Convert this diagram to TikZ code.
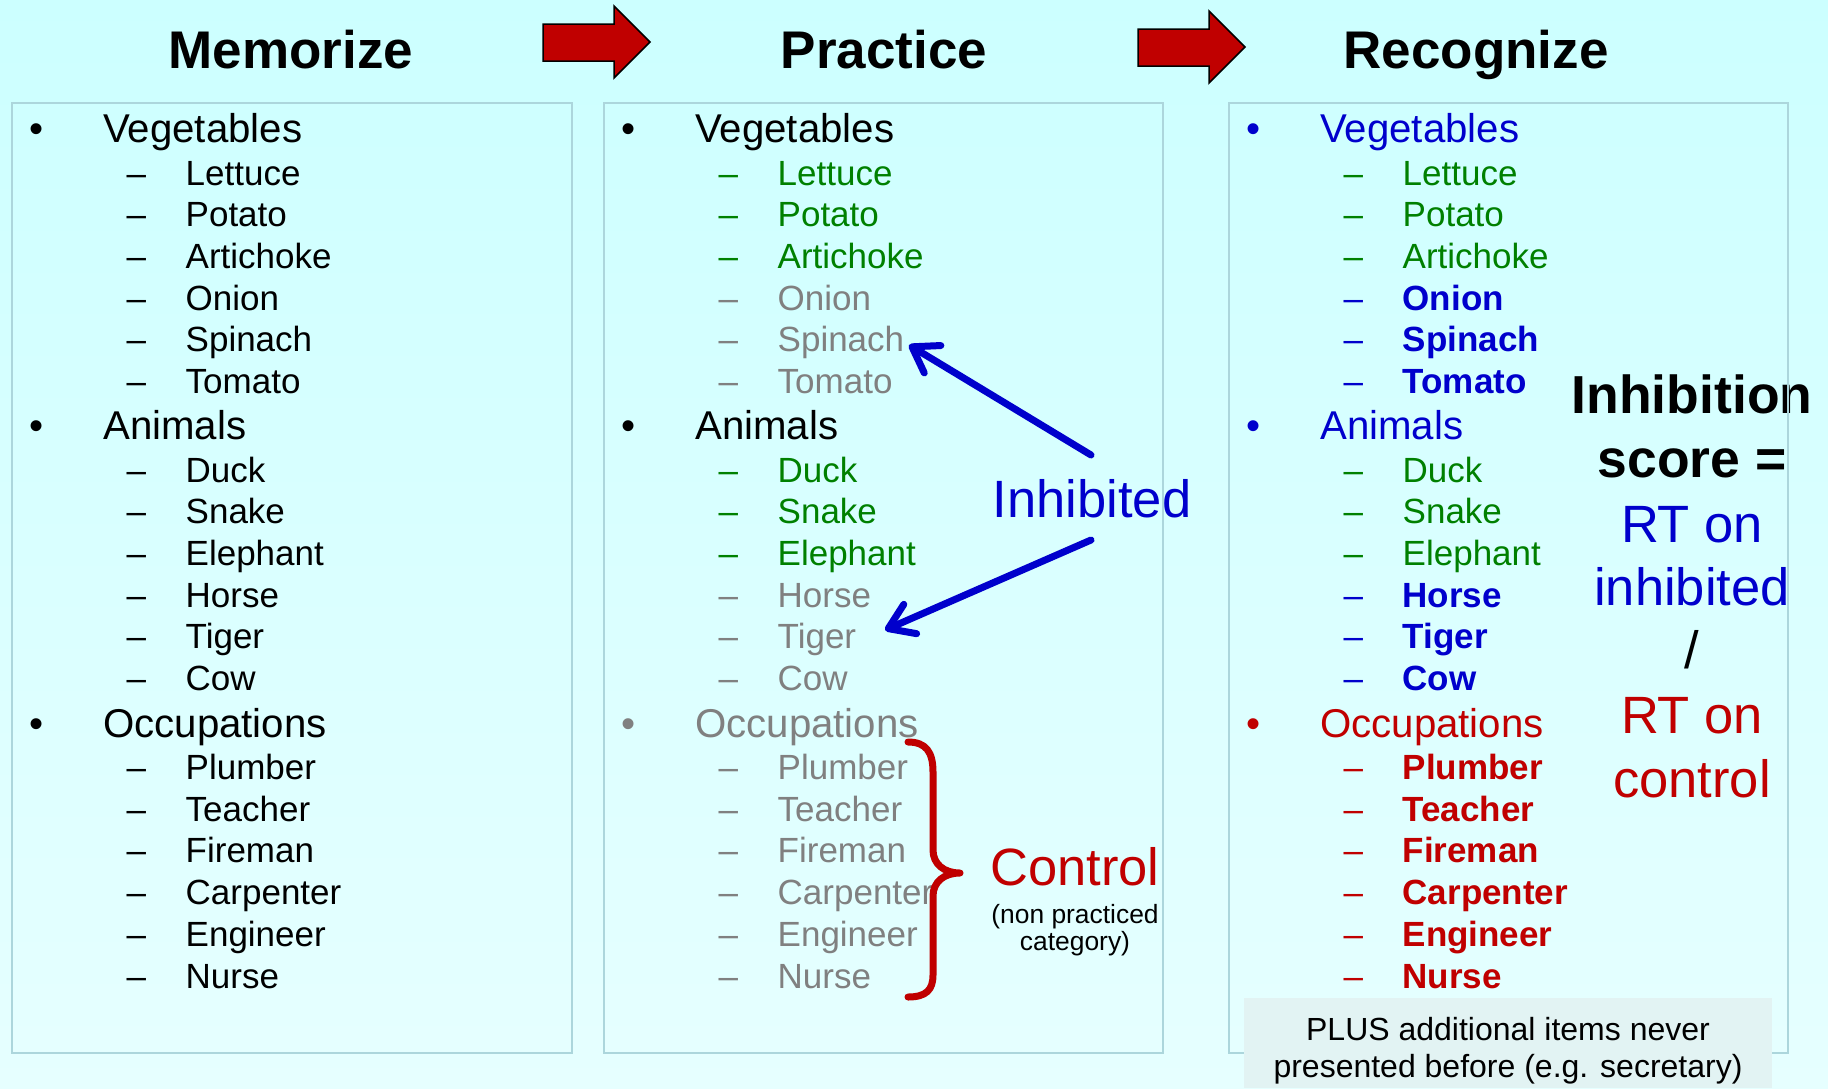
\documentclass[tikz,border=0pt]{standalone}
\usepackage{fontspec}
\setmainfont{Liberation Sans}
\usetikzlibrary{arrows.meta}
\definecolor{grn}{RGB}{0,128,0}
\definecolor{gry}{RGB}{128,128,128}
\definecolor{blu}{RGB}{0,0,204}
\definecolor{rd}{RGB}{192,0,0}
\definecolor{boxc}{RGB}{172,214,220}
\definecolor{notec}{RGB}{226,243,243}
\definecolor{bgtop}{RGB}{204,255,255}
\definecolor{bgbot}{RGB}{230,255,255}
\newcommand\catfont{\fontsize{40.2}{48}\selectfont}
\newcommand\itmfont{\fontsize{35}{42}\selectfont}
\tikzset{
  txt/.style={inner sep=0pt, anchor=base west},
  bul/.style={inner sep=0pt, anchor=base, font=\catfont},
  cat/.style={txt, font=\catfont},
  dsh/.style={txt, font=\itmfont},
  itm/.style={txt, font=\itmfont},
  bitm/.style={txt, font=\itmfont\bfseries},
  title/.style={inner sep=0pt, anchor=base, font=\fontsize{53}{60}\selectfont\bfseries},
  big/.style={inner sep=0pt, anchor=base, font=\fontsize{52.5}{60}\selectfont},
  bigb/.style={inner sep=0pt, anchor=base, font=\fontsize{53.5}{60}\selectfont\bfseries},
  small/.style={inner sep=0pt, anchor=base, font=\fontsize{26.4}{30}\selectfont},
  notetxt/.style={inner sep=0pt, anchor=base, font=\fontsize{32}{38}\selectfont},
  frame/.style={draw=boxc, line width=2.5pt},
  blockarrow/.style={fill=rd, draw=black, line width=1.5pt, line join=miter},
  inharrow/.style={draw=blu, line width=7pt, line cap=round,
    -{Straight Barb[round,length=24pt,width=32pt]}},
}
\newcommand\Cat[5]{\node[bul,text=#4] (#1b) at ({#2+37},#3) {•};
  \node[cat,text=#4] (#1) at ({#2+103},#3) {#5};}
\newcommand\Itm[6]{\node[dsh,text=#4] (#1d) at ({#2+126.5},#3) {–};
  \node[#5,text=#4] (#1) at ({#2+185.5},#3) {#6};}
\begin{document}
\begin{tikzpicture}[x=1pt,y=-1pt]
\shade[top color=bgtop, bottom color=bgbot] (0,0) rectangle (1828,1088);
\useasboundingbox (0,0) rectangle (1828,1088);

% titles
\node[title] (t1) at (291,68) {Memorize};
\node[title] (t2) at (884,68) {Practice};
\node[title] (t3) at (1476,68) {Recognize};

% block arrows
\draw[blockarrow] (543,24) -- (614,24) -- (614,6) -- (650,42) -- (614,78) -- (614,61) -- (543,61) -- cycle;
\draw[blockarrow] (1138,29) -- (1209,29) -- (1209,11) -- (1245,47) -- (1209,83) -- (1209,66) -- (1138,66) -- cycle;

% column 1
\Cat{aV}{0}{142}{black}{Vegetables}
\Itm{aV1}{0}{185}{black}{itm}{Lettuce}
\Itm{aV2}{0}{226.7}{black}{itm}{Potato}
\Itm{aV3}{0}{268.4}{black}{itm}{Artichoke}
\Itm{aV4}{0}{310.1}{black}{itm}{Onion}
\Itm{aV5}{0}{351.8}{black}{itm}{Spinach}
\Itm{aV6}{0}{393.5}{black}{itm}{Tomato}
\Cat{aA}{0}{439.5}{black}{Animals}
\Itm{aA1}{0}{482}{black}{itm}{Duck}
\Itm{aA2}{0}{523.7}{black}{itm}{Snake}
\Itm{aA3}{0}{565.4}{black}{itm}{Elephant}
\Itm{aA4}{0}{607.1}{black}{itm}{Horse}
\Itm{aA5}{0}{648.8}{black}{itm}{Tiger}
\Itm{aA6}{0}{690.5}{black}{itm}{Cow}
\Cat{aO}{0}{737}{black}{Occupations}
\Itm{aO1}{0}{779.5}{black}{itm}{Plumber}
\Itm{aO2}{0}{821.2}{black}{itm}{Teacher}
\Itm{aO3}{0}{862.9}{black}{itm}{Fireman}
\Itm{aO4}{0}{904.6}{black}{itm}{Carpenter}
\Itm{aO5}{0}{946.3}{black}{itm}{Engineer}
\Itm{aO6}{0}{988}{black}{itm}{Nurse}

% column 2
\Cat{bV}{592}{142}{black}{Vegetables}
\Itm{bV1}{592}{185}{grn}{itm}{Lettuce}
\Itm{bV2}{592}{226.7}{grn}{itm}{Potato}
\Itm{bV3}{592}{268.4}{grn}{itm}{Artichoke}
\Itm{bV4}{592}{310.1}{gry}{itm}{Onion}
\Itm{bV5}{592}{351.8}{gry}{itm}{Spinach}
\Itm{bV6}{592}{393.5}{gry}{itm}{Tomato}
\Cat{bA}{592}{439.5}{black}{Animals}
\Itm{bA1}{592}{482}{grn}{itm}{Duck}
\Itm{bA2}{592}{523.7}{grn}{itm}{Snake}
\Itm{bA3}{592}{565.4}{grn}{itm}{Elephant}
\Itm{bA4}{592}{607.1}{gry}{itm}{Horse}
\Itm{bA5}{592}{648.8}{gry}{itm}{Tiger}
\Itm{bA6}{592}{690.5}{gry}{itm}{Cow}
\Cat{bO}{592}{737}{gry}{Occupations}
\Itm{bO1}{592}{779.5}{gry}{itm}{Plumber}
\Itm{bO2}{592}{821.2}{gry}{itm}{Teacher}
\Itm{bO3}{592}{862.9}{gry}{itm}{Fireman}
\Itm{bO4}{592}{904.6}{gry}{itm}{Carpenter}
\Itm{bO5}{592}{946.3}{gry}{itm}{Engineer}
\Itm{bO6}{592}{988}{gry}{itm}{Nurse}

% column 3
\Cat{cV}{1217}{142}{blu}{Vegetables}
\Itm{cV1}{1217}{185}{grn}{itm}{Lettuce}
\Itm{cV2}{1217}{226.7}{grn}{itm}{Potato}
\Itm{cV3}{1217}{268.4}{grn}{itm}{Artichoke}
\Itm{cV4}{1217}{310.1}{blu}{bitm}{Onion}
\Itm{cV5}{1217}{351.8}{blu}{bitm}{Spinach}
\Itm{cV6}{1217}{393.5}{blu}{bitm}{Tomato}
\Cat{cA}{1217}{439.5}{blu}{Animals}
\Itm{cA1}{1217}{482}{grn}{itm}{Duck}
\Itm{cA2}{1217}{523.7}{grn}{itm}{Snake}
\Itm{cA3}{1217}{565.4}{grn}{itm}{Elephant}
\Itm{cA4}{1217}{607.1}{blu}{bitm}{Horse}
\Itm{cA5}{1217}{648.8}{blu}{bitm}{Tiger}
\Itm{cA6}{1217}{690.5}{blu}{bitm}{Cow}
\Cat{cO}{1217}{737}{rd}{Occupations}
\Itm{cO1}{1217}{779.5}{rd}{bitm}{Plumber}
\Itm{cO2}{1217}{821.2}{rd}{bitm}{Teacher}
\Itm{cO3}{1217}{862.9}{rd}{bitm}{Fireman}
\Itm{cO4}{1217}{904.6}{rd}{bitm}{Carpenter}
\Itm{cO5}{1217}{946.3}{rd}{bitm}{Engineer}
\Itm{cO6}{1217}{988}{rd}{bitm}{Nurse}

% Inhibited label and arrows
\node[big,text=blu] (inh) at (1092,517) {Inhibited};
\coordinate (s1) at (1091,455);
\coordinate (e1) at (909,345);
\coordinate (s2) at (1091,540);
\coordinate (e2) at (885,630);
\draw[inharrow] (s1) -- (e1);
\draw[inharrow] (s2) -- (e2);

% Control brace and label
\draw[rd, line width=7pt, line cap=round, line join=round]
  (908,742) .. controls (926,742) and (933,752) .. (933,772) -- (933,850)
  .. controls (933,864) and (944,873) .. (960,873)
  .. controls (944,873) and (933,882) .. (933,896) -- (933,975)
  .. controls (933,990) and (926,997) .. (908,997);
\node[big,text=rd] (ctl) at (1075,885) {Control};
\node[small] (ctl2) at (1075,923) {(non practiced};
\node[small] (ctl3) at (1075,950) {category)};

% Inhibition score
\node[bigb] (is1) at (1692,413) {Inhibition};
\node[bigb] (is2) at (1692,477) {score =};
\node[big,text=blu] (is3) at (1692,542) {RT on};
\node[big,text=blu] (is4) at (1692,605) {inhibited};
\node[big] (is5) at (1692,668) {/};
\node[big,text=rd] (is6) at (1692,733) {RT on};
\node[big,text=rd] (is7) at (1692,797) {control};

% frames
\draw[frame] (12,103) rectangle (572,1053);
\draw[frame] (604,103) rectangle (1163,1053);
\draw[frame] (1229,103) rectangle (1788,1053);

% note
\fill[notec] (1244,998) rectangle (1772,1088);
\node[notetxt] (n1) at (1508,1040) {PLUS additional items never};
\node[notetxt] (n2) at (1508,1077) {presented before (e.g. secretary)};
\end{tikzpicture}
\end{document}
